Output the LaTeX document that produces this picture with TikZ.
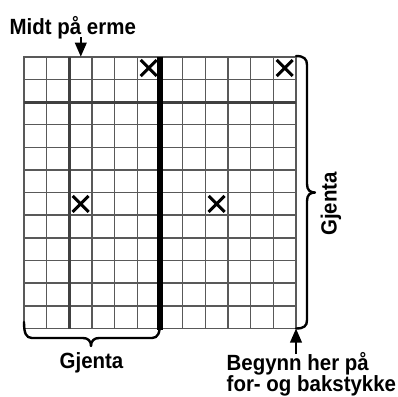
\documentclass[tikz,border=0pt]{standalone}
\usepackage{fontspec}
\newfontfamily\labfont{Liberation Sans Bold}[FakeStretch=0.93]
\usetikzlibrary{arrows.meta,shapes.misc}
\tikzset{
  lab/.style={inner sep=0pt, font=\labfont\fontsize{22}{21.7}\selectfont},
  thingrid/.style={draw=black!65, line width=1.6pt, line cap=rect},
  midline/.style={draw=black!75, line width=3pt},
  boldline/.style={draw=black, line width=5.5pt},
  xmark/.style={cross out, draw=black, line width=3pt, minimum size=13pt, inner sep=0pt},
  bracepath/.style={draw=black, line width=2.4pt, line cap=round, line join=round},
  pointer/.style={draw=black, line width=2.2pt, -{Triangle[width=11.5pt,length=14pt]}}
}
\begin{document}
\begin{tikzpicture}[x=1pt,y=-1pt]
\useasboundingbox (0,0) rectangle (398,396);
\def\cw{22.667}
\def\ch{22.65}
% grid corners
\coordinate (tl) at (24,56.7);
\coordinate (br) at (296,328.5);
% thin grid
\foreach \i in {0,...,12} {
  \draw[thingrid] ({24+\i*\cw},56.7) -- ({24+\i*\cw},328.5);
  \draw[thingrid] (24,{56.7+\i*\ch}) -- (296,{56.7+\i*\ch});
}
% medium lines
\draw[midline] ({24+2*\cw},56.7) -- ({24+2*\cw},328.5);
\draw[midline] (24,{56.7+2*\ch}) -- (296,{56.7+2*\ch});
% thick black line
\draw[boldline] ({24+6*\cw},56.7) -- ({24+6*\cw},330);
% crosses
\node[xmark] (x1) at ({24+5.5*\cw},{56.7+0.5*\ch}) {};
\node[xmark] (x2) at ({24+11.5*\cw},{56.7+0.5*\ch}) {};
\node[xmark] (x3) at ({24+2.5*\cw},{56.7+6.5*\ch}) {};
\node[xmark] (x4) at ({24+8.5*\cw},{56.7+6.5*\ch}) {};
% right brace
\draw[bracepath] (296,56) .. controls (304,56) and (307,59) .. (307,65)
  -- (307,184) .. controls (307,190) and (310,192.5) .. (315,192.5)
  .. controls (310,192.5) and (307,195) .. (307,201)
  -- (307,320) .. controls (307,326) and (304,328.5) .. (296,328.5);
% bottom brace
\draw[bracepath] (24,322) .. controls (24,333) and (26,338) .. (32,338)
  -- (83,338) .. controls (88,338) and (91,341) .. (91,346)
  .. controls (91,341) and (94,338) .. (99,338)
  -- (152,338) .. controls (158,338) and (160,333) .. (160,322);
% labels
\node[lab, anchor=base west] (midt) at (9.5,34.3) {Midt på erme};
\coordinate (midttip) at (80.8,56.7);
\coordinate (midtstart) at (80.8,37.5);
\draw[pointer] (midtstart) -- (midttip);
\node[lab, anchor=base] (gjb) at (91.5,368.3) {Gjenta};
\node[lab, anchor=base, rotate=90] (gjr) at (336.7,204) {Gjenta};
\node[lab, anchor=base west, align=left] (beg) at (226.5,391.7) {Begynn her på\\for- og bakstykke};
\coordinate (begstart) at (296,354);
\draw[pointer] (begstart) -- (br);
\end{tikzpicture}
\end{document}
